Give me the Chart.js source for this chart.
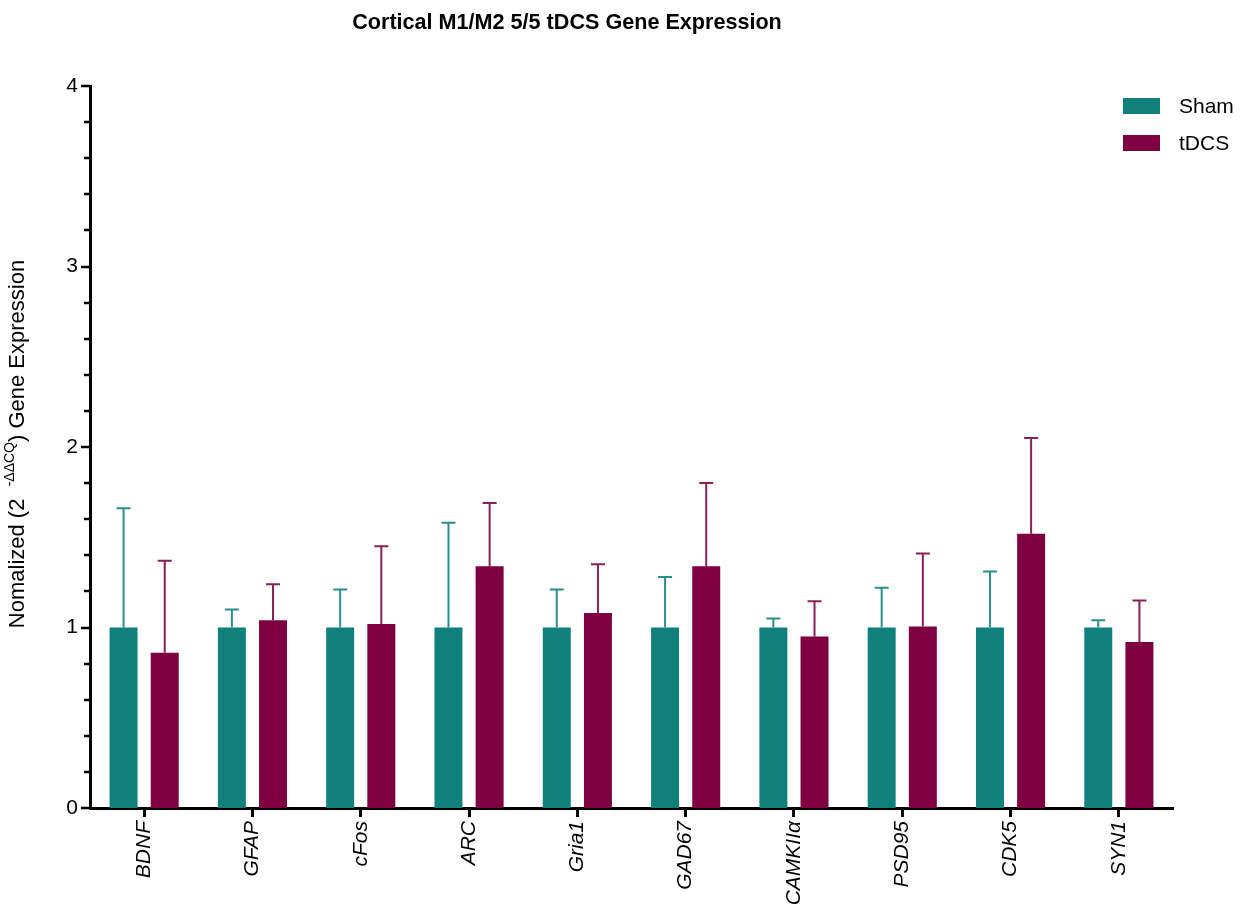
<!DOCTYPE html>
<html>
<head>
<meta charset="utf-8">
<script src="https://cdn.jsdelivr.net/npm/chart.js@4.4.1/dist/chart.umd.min.js"></script>
<style>
  html, body { margin: 0; padding: 0; background: #fff; }
  #wrap { width: 1253px; height: 911px; position: relative; }
</style>
</head>
<body>
<div id="wrap"><canvas id="chart"></canvas></div>
<script>
const genes = ["BDNF", "GFAP", "cFos", "ARC", "Gria1", "GAD67", "CAMKIIα", "PSD95", "CDK5", "SYN1"];
const shamMean = [1, 1, 1, 1, 1, 1, 1, 1, 1, 1];
const shamErr = [0.66, 0.10, 0.21, 0.58, 0.21, 0.28, 0.05, 0.22, 0.31, 0.04];
const tdcsMean = [0.86, 1.04, 1.02, 1.34, 1.08, 1.34, 0.95, 1.005, 1.52, 0.92];
const tdcsErr = [0.51, 0.20, 0.43, 0.35, 0.27, 0.46, 0.195, 0.405, 0.53, 0.23];
const yTicks = [0, 1, 2, 3, 4];

const FONT = '"Liberation Sans", Arial, Helvetica, sans-serif';
const SHAM = "#10807d";
const TDCS = "#7e0040";

// upper error bars, one per bar
const errorBars = {
  id: "errorBars",
  afterDatasetsDraw(chart) {
    const ctx = chart.ctx;
    const y = chart.scales.y;
    chart.data.datasets.forEach((ds, i) => {
      const meta = chart.getDatasetMeta(i);
      meta.data.forEach((bar, j) => {
        const top = y.getPixelForValue(ds.data[j] + ds.errors[j]);
        ctx.save();
        ctx.strokeStyle = ds.errColor;
        ctx.lineWidth = 2;
        ctx.beginPath();
        ctx.moveTo(bar.x, bar.y);
        ctx.lineTo(bar.x, top);
        ctx.moveTo(bar.x - 7, top);
        ctx.lineTo(bar.x + 7, top);
        ctx.stroke();
        ctx.restore();
      });
    });
  }
};

// title, y axis title with superscript, minor ticks, legend
const decorations = {
  id: "decorations",
  afterDraw(chart) {
    const ctx = chart.ctx;
    const area = chart.chartArea;
    const y = chart.scales.y;

    ctx.save();
    ctx.fillStyle = "#000";
    ctx.font = "bold 21.6px " + FONT;
    ctx.textAlign = "center";
    ctx.textBaseline = "middle";
    ctx.fillText("Cortical M1/M2 5/5 tDCS Gene Expression", 567, 23);
    ctx.restore();

    // y ticks (major + minor)
    ctx.save();
    ctx.strokeStyle = "#000";
    ctx.lineWidth = 2.5;
    for (let i = 0; i <= 20; i++) {
      const py = Math.round(y.getPixelForValue(i / 5));
      const len = i % 5 === 0 ? 9 : 6;
      ctx.beginPath();
      ctx.moveTo(area.left, py);
      ctx.lineTo(area.left - len, py);
      ctx.stroke();
    }
    ctx.restore();

    // y axis title
    ctx.save();
    ctx.translate(18, 444);
    ctx.rotate(-Math.PI / 2);
    ctx.fillStyle = "#000";
    ctx.textBaseline = "middle";
    ctx.textAlign = "left";
    const main = "22px " + FONT;
    const sup = "14px " + FONT;
    const parts = [
      ["Nomalized (2  ", main, 0],
      ["-ΔΔCQ", sup, -8],
      [") Gene Expression", main, 0]
    ];
    let total = 0;
    parts.forEach(p => { ctx.font = p[1]; total += ctx.measureText(p[0]).width; });
    let x = -total / 2;
    parts.forEach(p => {
      ctx.font = p[1];
      ctx.fillText(p[0], x, p[2]);
      x += ctx.measureText(p[0]).width;
    });
    ctx.restore();

    // legend
    ctx.save();
    ctx.font = "21px " + FONT;
    ctx.textBaseline = "middle";
    ctx.textAlign = "left";
    chart.data.datasets.forEach((ds, i) => {
      const top = 98 + i * 37;
      ctx.fillStyle = ds.backgroundColor;
      ctx.fillRect(1123, top, 37, 16);
      ctx.fillStyle = "#000";
      ctx.fillText(ds.label, 1179, top + 9);
    });
    ctx.restore();
  }
};

new Chart(document.getElementById("chart"), {
  type: "bar",
  data: {
    labels: genes,
    datasets: [
      { label: "Sham", data: shamMean, errors: shamErr, backgroundColor: SHAM, errColor: "#2a8f8c" },
      { label: "tDCS", data: tdcsMean, errors: tdcsErr, backgroundColor: TDCS, errColor: "#8a2058" }
    ]
  },
  options: {
    responsive: true,
    maintainAspectRatio: false,
    animation: false,
    layout: { padding: { top: 86, right: 80, bottom: 0, left: 0 } },
    datasets: { bar: { categoryPercentage: 0.76, barPercentage: 0.68 } },
    plugins: {
      legend: { display: false },
      title: { display: false },
      tooltip: { enabled: false }
    },
    scales: {
      x: {
        offset: true,
        grid: { display: true, offset: false, drawOnChartArea: false, drawTicks: true, tickLength: 9, tickWidth: 3, tickColor: "#000" },
        border: { display: true, color: "#000", width: 3 },
        ticks: {
          minRotation: 90, maxRotation: 90, padding: 4, color: "#000",
          font: { family: FONT, size: 21, style: "italic" }
        },
        afterFit(scale) { scale.height = 103; }
      },
      y: {
        min: 0, max: 4,
        afterBuildTicks(scale) { scale.ticks = yTicks.map(v => ({ value: v })); },
        grid: { display: false, drawTicks: false },
        border: { display: true, color: "#000", width: 3 },
        ticks: { padding: 12, color: "#000", font: { family: FONT, size: 21 } },
        afterFit(scale) { scale.width = 90; }
      }
    }
  },
  plugins: [errorBars, decorations]
});
</script>
</body>
</html>
